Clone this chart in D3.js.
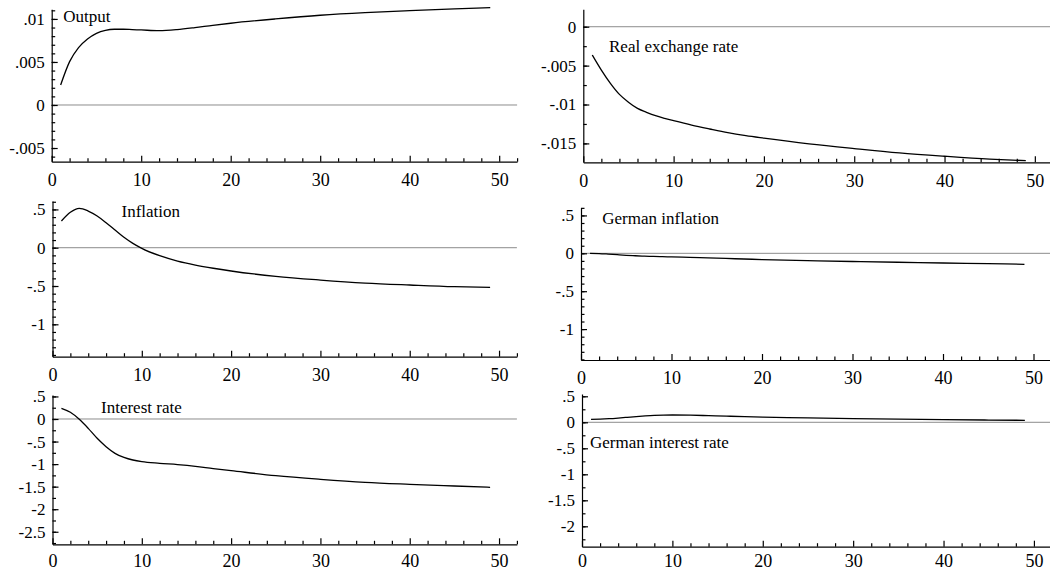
<!DOCTYPE html>
<html>
<head>
<meta charset="utf-8">
<script src="https://cdn.jsdelivr.net/npm/d3@7"></script>
<style>
  body { margin: 0; background: #fff; }
  svg text { font-family: 'Liberation Serif', 'DejaVu Serif', 'Times New Roman', Times, serif; fill: #000; }
  .axis path, .axis line { stroke: #000; stroke-width: 1.2; }
</style>
</head>
<body>
<svg id="chart" width="1050" height="573"></svg>
<script>
// ── DATA (impulse responses, horizon 1..49) ───────────────────────
const periods = [1, 2, 3, 4, 5, 6, 7, 8, 9, 10, 12, 14, 16, 18, 20, 25, 30, 35, 40, 45, 49];

const output = [0.00233, 0.00504, 0.00667, 0.00767, 0.00833, 0.00868, 0.0088, 0.0088, 0.00876, 0.00872,
  0.00864, 0.00876, 0.00899, 0.00926, 0.0095, 0.0100, 0.01043, 0.01074, 0.01097, 0.01116, 0.01132];

const realExchangeRate = [-0.00364, -0.00557, -0.00728, -0.0087, -0.0097, -0.0105, -0.0110, -0.01144, -0.01178, -0.01208,
  -0.01265, -0.01315, -0.01362, -0.0140, -0.01432, -0.01505, -0.01566, -0.01622, -0.01665, -0.01702, -0.01722];

const inflation = [0.349, 0.462, 0.514, 0.479, 0.414, 0.326, 0.231, 0.136, 0.057, -0.008,
  -0.104, -0.174, -0.226, -0.268, -0.304, -0.374, -0.422, -0.461, -0.487, -0.509, -0.517];

const germanInflation = [0.0, -0.003, -0.010, -0.018, -0.026, -0.032, -0.037, -0.041, -0.045, -0.048,
  -0.054, -0.061, -0.068, -0.075, -0.082, -0.096, -0.108, -0.118, -0.128, -0.137, -0.145];

const interestRate = [0.237, 0.148, -0.007, -0.207, -0.428, -0.614, -0.761, -0.850, -0.909, -0.946,
  -0.983, -1.012, -1.050, -1.100, -1.145, -1.256, -1.337, -1.404, -1.448, -1.486, -1.515];

const germanInterestRate = [0.058, 0.062, 0.070, 0.082, 0.096, 0.110, 0.123, 0.133, 0.138, 0.140,
  0.136, 0.128, 0.118, 0.108, 0.100, 0.085, 0.072, 0.060, 0.050, 0.043, 0.038];

const xTicks = [0, 10, 20, 30, 40, 50];
const xMinorTicks = [2, 4, 6, 8, 12, 14, 16, 18, 22, 24, 26, 28, 32, 34, 36, 38, 42, 44, 46, 48, 52];

// ── PANEL LAYOUT ──────────────────────────────────────────────────
// box: [left, top, right, bottom] in px; title: offset from (left, top)
const panels = [
  { title: 'Output', values: output,
    yDomain: [-0.00659, 0.01112], yTicks: [-0.005, 0, 0.005, 0.01], yMinor: 0.001,
    box: [51.7, 9.3, 517.1, 161.7], titleAt: [11.5, 12.5], xPad: 12 },
  { title: 'Real exchange rate', values: realExchangeRate,
    yDomain: [-0.01743, 0.00224], yTicks: [-0.015, -0.01, -0.005, 0], yMinor: 0.0025,
    box: [583.3, 9.3, 1052.9, 162.3], titleAt: [25.7, 42.4], xPad: 12 },
  { title: 'Inflation', values: inflation,
    yDomain: [-1.423, 0.61], yTicks: [-1, -0.5, 0, 0.5], yMinor: 0.1,
    box: [52.5, 201, 516.9, 356.7], titleAt: [69, 15.7], xPad: 12 },
  { title: 'German inflation', values: germanInflation,
    yDomain: [-1.408, 0.602], yTicks: [-1, -0.5, 0, 0.5], yMinor: 0.1,
    box: [581, 207.7, 1051.6, 360], titleAt: [21.3, 16.6], xPad: 11 },
  { title: 'Interest rate', values: interestRate,
    yDomain: [-2.778, 0.532], yTicks: [-2.5, -2, -1.5, -1, -0.5, 0, 0.5], yMinor: 0.25,
    box: [52.5, 395, 516.9, 544.3], titleAt: [48.5, 18.3], xPad: 9.5 },
  { title: 'German interest rate', values: germanInterestRate,
    yDomain: [-2.392, 0.544], yTicks: [-2, -1.5, -1, -0.5, 0, 0.5], yMinor: 0.25,
    box: [582, 394, 1052, 546.7], titleAt: [8, 54.3], xPad: 7.5 }
];

const FONT = "'Liberation Serif', 'DejaVu Serif', 'Times New Roman', Times, serif";
const svg = d3.select('#chart');
const fmtY = d => String(d).replace('0.', '.');

function minorValues(domain, step) {
  const lo = Math.ceil(domain[0] / step - 1e-9), hi = Math.floor(domain[1] / step + 1e-9);
  return d3.range(lo, hi + 1).map(i => +(i * step).toFixed(6));
}

panels.forEach(p => {
  const [left, top, right, bottom] = p.box;
  const x = d3.scaleLinear().domain([0, 52]).range([left, right]);
  const y = d3.scaleLinear().domain(p.yDomain).range([bottom, top]);
  const g = svg.append('g');

  // zero line
  g.append('line')
    .attr('x1', x(0)).attr('x2', x(52))
    .attr('y1', y(0)).attr('y2', y(0))
    .attr('stroke', '#8c8c8c').attr('stroke-width', 1);

  // y axis: minor then major ticks, pointing inward
  g.append('g').attr('class', 'axis')
    .attr('transform', `translate(${left},0)`)
    .call(d3.axisLeft(y).tickValues(minorValues(p.yDomain, p.yMinor))
      .tickSizeInner(-3.5).tickSizeOuter(0).tickFormat(''))
    .select('.domain').remove();

  g.append('g').attr('class', 'axis')
    .attr('transform', `translate(${left},0)`)
    .attr('font-family', FONT)
    .call(d3.axisLeft(y).tickValues(p.yTicks)
      .tickSizeInner(-6).tickSizeOuter(0).tickPadding(7).tickFormat(fmtY))
    .selectAll('text').attr('font-size', 17).attr('font-family', FONT);

  // x axis
  g.append('g').attr('class', 'axis')
    .attr('transform', `translate(0,${bottom})`)
    .call(d3.axisBottom(x).tickValues(xMinorTicks)
      .tickSizeInner(-3.5).tickSizeOuter(0).tickFormat(''))
    .select('.domain').remove();

  g.append('g').attr('class', 'axis')
    .attr('transform', `translate(0,${bottom})`)
    .call(d3.axisBottom(x).tickValues(xTicks)
      .tickSizeInner(-6).tickSizeOuter(0).tickPadding(p.xPad).tickFormat(d3.format('d')))
    .selectAll('text').attr('font-size', 18).attr('font-family', FONT);

  // series
  const line = d3.line()
    .x((d, i) => x(periods[i]))
    .y(d => y(d))
    .curve(d3.curveMonotoneX);

  g.append('path')
    .datum(p.values)
    .attr('d', line)
    .attr('fill', 'none')
    .attr('stroke', '#000')
    .attr('stroke-width', 1.3);

  // title
  g.append('text')
    .attr('x', left + p.titleAt[0])
    .attr('y', top + p.titleAt[1])
    .attr('font-size', 17)
    .attr('font-family', FONT)
    .text(p.title);
});
</script>
</body>
</html>
